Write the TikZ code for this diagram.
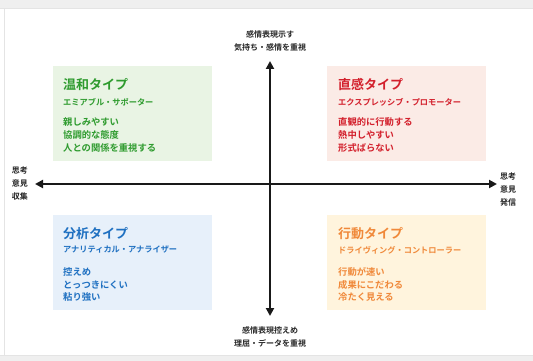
\documentclass[tikz,border=0pt]{standalone}
\usepackage{fontspec}
\newfontfamily\jp{Noto Sans CJK JP}[BoldFont={* Bold}]
\usetikzlibrary{arrows.meta}
\definecolor{gfill}{HTML}{E9F4E4}\definecolor{gtext}{HTML}{2E9B2E}
\definecolor{rfill}{HTML}{FBEBE6}\definecolor{rtext}{HTML}{D3202C}
\definecolor{bfill}{HTML}{E7F0FA}\definecolor{btext}{HTML}{1F70C1}
\definecolor{ofill}{HTML}{FFF4DD}\definecolor{otext}{HTML}{F0893A}
\definecolor{frame}{HTML}{E4E4E4}
\begin{document}
\begin{tikzpicture}[x=1pt,y=-1pt,
  panel/.style={draw=none,minimum width=159pt,minimum height=95pt,anchor=north west},
  ttl/.style={anchor=west,font=\jp\bfseries\fontsize{13}{14}\selectfont,inner sep=0},
  sub/.style={anchor=west,font=\jp\bfseries\fontsize{8.2}{9}\selectfont,inner sep=0},
  item/.style={anchor=west,font=\jp\bfseries\fontsize{9.3}{10}\selectfont,inner sep=0},
  axlbl/.style={font=\jp\bfseries\fontsize{8}{13}\selectfont,align=center,inner sep=0,text=black!85},
  axis/.style={line width=2pt,-{Triangle[length=8pt,width=8pt]},black!90}]
\useasboundingbox (0,0) rectangle (533,361);
\fill[white] (0,0) rectangle (533,361);
% frame
\fill[frame!60] (0,0) rectangle (533,8);
\draw[frame,line width=1pt] (0,8.5) -- (533,8.5);
\draw[frame,line width=1pt] (4.5,8.5) -- (4.5,355);
\fill[frame!60] (0,355) rectangle (533,361);
\draw[frame,line width=1pt] (0,355) -- (533,355);
% panels
\node[panel,fill=gfill] (g) at (53,66) {};
\node[panel,fill=rfill] (r) at (327,66) {};
\node[panel,fill=bfill] (b) at (53,215) {};
\node[panel,fill=ofill] (o) at (327,215) {};
% green
\node[ttl,text=gtext] (gt) at (63,85) {温和タイプ};
\node[sub,text=gtext] (gs) at (63,102) {エミアブル・サポーター};
\node[item,text=gtext] (g1) at (63,122) {親しみやすい};
\node[item,text=gtext] (g2) at (63,135) {協調的な態度};
\node[item,text=gtext] (g3) at (63,148) {人との関係を重視する};
% red
\node[ttl,text=rtext] (rt) at (338,85) {直感タイプ};
\node[sub,text=rtext] (rs) at (338,102) {エクスプレッシブ・プロモーター};
\node[item,text=rtext] (r1) at (338,122) {直観的に行動する};
\node[item,text=rtext] (r2) at (338,135) {熱中しやすい};
\node[item,text=rtext] (r3) at (338,148) {形式ばらない};
% blue
\node[ttl,text=btext] (bt) at (63,234) {分析タイプ};
\node[sub,text=btext] (bs) at (63,250) {アナリティカル・アナライザー};
\node[item,text=btext] (b1) at (63,272) {控えめ};
\node[item,text=btext] (b2) at (63,285) {とっつきにくい};
\node[item,text=btext] (b3) at (63,297) {粘り強い};
% orange
\node[ttl,text=otext] (ot) at (338,234) {行動タイプ};
\node[sub,text=otext] (os) at (338,250) {ドライヴィング・コントローラー};
\node[item,text=otext] (o1) at (338,272) {行動が速い};
\node[item,text=otext] (o2) at (338,285) {成果にこだわる};
\node[item,text=otext] (o3) at (338,297) {冷たく見える};
% axes
\coordinate (vt) at (270,61);
\coordinate (vb) at (270,316);
\coordinate (hl) at (35,184);
\coordinate (hr) at (497,184);
\coordinate (c) at (270,184);
\draw[axis] (c) -- (vt);
\draw[axis] (c) -- (vb);
\draw[axis] (c) -- (hl);
\draw[axis] (c) -- (hr);
% axis labels
\node[axlbl] (top) at (270,41) {感情表現示す\\気持ち・感情を重視};
\node[axlbl] (bot) at (270,337) {感情表現控えめ\\理屈・データを重視};
\node[axlbl] (lft) at (20,183) {思考\\意見\\収集};
\node[axlbl] (rgt) at (508,189) {思考\\意見\\発信};
\end{tikzpicture}
\end{document}
